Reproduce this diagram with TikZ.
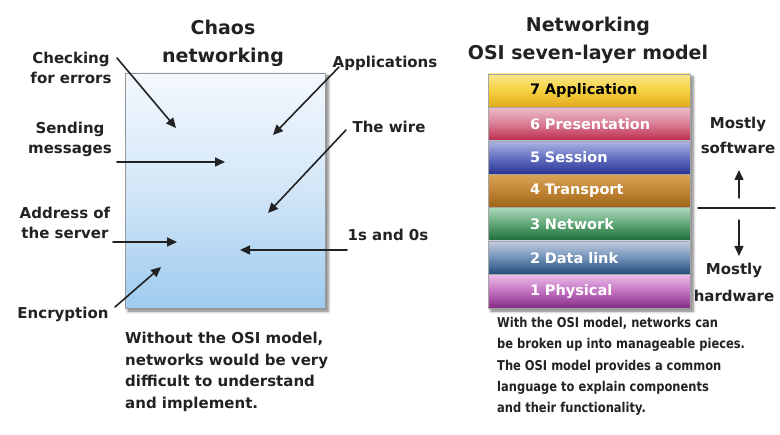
\documentclass[tikz,border=0pt]{standalone}
\usepackage{fontspec}
\setmainfont{DejaVu Sans}
\usetikzlibrary{arrows.meta,shadows.blur}

\definecolor{ink}{HTML}{222222}
\definecolor{chaostop}{HTML}{F3F8FD}
\definecolor{chaosmid}{HTML}{D2E6F7}
\definecolor{chaosbot}{HTML}{9FCBEF}

\begin{document}
\begin{tikzpicture}[x=1pt,y=-1pt,line join=round,line cap=round,
    lbl/.style={font=\bfseries\fontsize{15}{20}\selectfont,align=center,text=ink},
    ttl/.style={font=\bfseries\fontsize{19}{28}\selectfont,align=center,text=ink},
    note/.style={font=\bfseries\fontsize{15}{21.7}\selectfont,align=left,anchor=north west,text=ink,inner sep=0pt},
    arr/.style={-{Triangle[length=10pt,width=9pt]},line width=1.6pt,draw=ink},
    layer/.style={minimum height=33.4pt,inner sep=0pt,text width=202pt,align=left,draw=black!35,line width=0.4pt,
      font=\bfseries\fontsize{14.5}{16}\selectfont},
    shade/.style={blur shadow={shadow xshift=3pt,shadow yshift=-3pt,shadow blur radius=3pt,shadow opacity=55}}]
  \useasboundingbox (0,0) rectangle (780,435);

  % chaos side
  \node[ttl] (chaosT) at (223,43) {Chaos\\networking};
  \path[shade,draw=black!40,top color=chaostop,bottom color=chaosbot,middle color=chaosmid] (125,73) rectangle (325,308);

  \node[lbl] (chk) at (71,68) {Checking\\for errors};
  \node[lbl] (snd) at (70,139) {Sending\\messages};
  \node[lbl] (addr) at (65,223) {Address of\\the server};
  \node[lbl] (enc) at (63,314) {Encryption};
  \node[lbl] (app) at (385,63) {Applications};
  \node[lbl] (wire) at (389,127) {The wire};
  \node[lbl] (bits) at (388,235) {1s and 0s};

  \coordinate (chk0) at (117,58);   \coordinate (chk1) at (176,128);
  \coordinate (snd0) at (117,162);  \coordinate (snd1) at (225,162);
  \coordinate (addr0) at (113,242); \coordinate (addr1) at (177,242);
  \coordinate (enc0) at (115,307);  \coordinate (enc1) at (161,267);
  \coordinate (app0) at (339,67);   \coordinate (app1) at (273,135);
  \coordinate (wire0) at (346,130); \coordinate (wire1) at (268,213);
  \coordinate (bits0) at (347,250); \coordinate (bits1) at (240,250);
  \foreach \a in {chk,snd,addr,enc,app,wire,bits}
    \draw[arr] (\a0) -- (\a1);

  \node[note] (chaosN) at (125,332) {Without the OSI model,\\networks would be very\\difficult to understand\\and implement.};

  % osi side
  \node[ttl] (osiT) at (588,40) {Networking\\OSI seven-layer model};
  \path[shade,fill=white] (488,74) rectangle (690,308);
  \foreach \n/\nm/\tc/\mc/\bc/\fc in {
      7/Application/F8E68A/F6D03E/E2A91E/black,
      6/Presentation/EBBCC8/D97C94/BC2A48/white,
      5/Session/AEB6E4/6470C2/283492/white,
      4/Transport/D9A455/C08434/9C6416/white,
      3/Network/A9D8BA/5EA574/1B6A37/white,
      2/Data link/C4CCDF/7191B8/204A78/white,
      1/Physical/EBBCEA/C272C0/862C86/white}{
    \definecolor{ltop}{HTML}{\tc}
    \definecolor{lmid}{HTML}{\mc}
    \definecolor{lbot}{HTML}{\bc}
    \node[layer,top color=ltop,bottom color=lbot,middle color=lmid,text=\fc]
      (L\n) at (589,{74+16.7+(7-\n)*33.4}) {\hspace*{42pt}\n\ \nm};
  }

  \node[lbl,font=\bfseries\fontsize{15}{25}\selectfont] (sw) at (738,135) {Mostly\\software};
  \node[lbl,font=\bfseries\fontsize{15}{27}\selectfont] (hw) at (734,282) {Mostly\\hardware};
  \coordinate (divL) at (698,208); \coordinate (divR) at (775,208);
  \draw[line width=1.4pt,draw=ink] (divL) -- (divR);
  \coordinate (up0) at (739,198);   \coordinate (up1) at (739,170);
  \coordinate (down0) at (739,220); \coordinate (down1) at (739,256);
  \draw[arr,line width=1.4pt] (up0) -- (up1);
  \draw[arr,line width=1.4pt] (down0) -- (down1);

  \node[note,font=\bfseries\fontsize{13.5}{21.3}\selectfont\addfontfeatures{FakeStretch=0.85}] (osiN) at (497,317)
    {With the OSI model, networks can\\be broken up into manageable pieces.\\The OSI model provides a common\\language to explain components\\and their functionality.};
\end{tikzpicture}
\end{document}
